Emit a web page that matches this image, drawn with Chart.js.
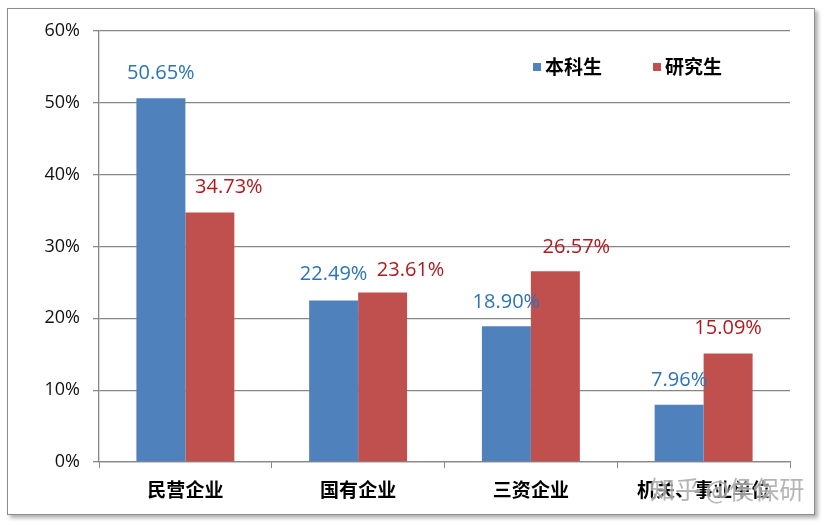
<!DOCTYPE html>
<html>
<head>
<meta charset="utf-8">
<script src="https://cdn.jsdelivr.net/npm/chart.js@4.4.1/dist/chart.umd.min.js"></script>
<style>
  body { margin: 0; background: #fff; }
  #wrap { position: relative; width: 825px; height: 525px; }
  #frame {
    position: absolute; left: 7px; top: 8px; width: 806px; height: 505px;
    border: 1px solid #8c8c8c; box-shadow: 3px 3px 4px #b0b0b0; background: #fff;
  }
  canvas { position: absolute; left: 0; top: 0; }
</style>
</head>
<body>
<div id="wrap">
  <div id="frame"></div>
  <canvas id="eduChart" width="825" height="525"></canvas>
</div>
<script>

var categories = ["民营企业", "国有企业", "三资企业", "机关、事业单位"];
var seriesNames = ["本科生", "研究生"];
var undergrad = [50.65, 22.49, 18.90, 7.96];
var graduate = [34.73, 23.61, 26.57, 15.09];
var yTicks = [0, 10, 20, 30, 40, 50, 60];

var barColors = ["#4f81bd", "#c0504d"];
var labelColors = ["#2c74b4", "#b01a1e"];
// label nudges, as in the original picture
var labelShift = [
  { dx: [0, 0, 0, 0], dy: [25, 26, 24, 25] },
  { dx: [19, 28, 21, 0], dy: [25, 22, 24, 25] }
];

var barLabels = {
  id: "barLabels",
  afterDatasetsDraw: function(chart) {
    var ctx = chart.ctx;
    ctx.save();
    ctx.font = "20px 'Open Sans'";
    ctx.textAlign = "center";
    ctx.textBaseline = "middle";
    chart.data.datasets.forEach(function(ds, di) {
      var meta = chart.getDatasetMeta(di);
      meta.data.forEach(function(bar, i) {
        ctx.fillStyle = labelColors[di];
        ctx.fillText(ds.data[i].toFixed(2) + "%",
          bar.x + labelShift[di].dx[i], bar.y - labelShift[di].dy[i]);
      });
    });
    ctx.restore();
  },
  afterDraw: function(chart) {
    var ctx = chart.ctx;
    ctx.save();
    // legend inside plot, top right
    var lx = [533, 653];
    ctx.font = "bold 19px 'Noto Sans CJK SC'";
    ctx.textBaseline = "middle";
    ctx.textAlign = "left";
    chart.data.datasets.forEach(function(ds, di) {
      ctx.fillStyle = barColors[di];
      ctx.fillRect(lx[di], 63, 8, 8);
      ctx.fillStyle = "#000";
      ctx.fillText(ds.label, lx[di] + 12, 67);
    });
    // watermark
    ctx.font = "25px 'Noto Sans CJK SC'";
    ctx.lineWidth = 2;
    ctx.strokeStyle = "rgba(255,255,255,0.6)";
    ctx.strokeText("知乎 @侯保研", 650, 489);
    ctx.fillStyle = "rgba(150,150,150,0.7)";
    ctx.fillText("知乎 @侯保研", 650, 489);
    ctx.restore();
  }
};

var chart = new Chart(document.getElementById("eduChart").getContext("2d"), {
  type: "bar",
  data: {
    labels: categories,
    datasets: [
      { label: seriesNames[0], data: undergrad, backgroundColor: barColors[0] },
      { label: seriesNames[1], data: graduate, backgroundColor: barColors[1] }
    ]
  },
  options: {
    responsive: false,
    animation: false,
    events: [],
    layout: { padding: { left: 0, right: 35, top: 31, bottom: 0 } },
    datasets: { bar: { categoryPercentage: 0.567, barPercentage: 1 } },
    plugins: { legend: { display: false }, tooltip: { enabled: false } },
    scales: {
      x: {
        grid: { offset: true, drawOnChartArea: false, drawTicks: true, tickLength: 6, color: "#868686" },
        border: { color: "#868686", width: 1.3 },
        ticks: { color: "#000", padding: 10, font: { family: "'Noto Sans CJK SC'", size: 19, weight: "bold" } },
        afterFit: function(s) { s.height = 63; }
      },
      y: {
        min: 0, max: 60,
        afterBuildTicks: function(s) { s.ticks = yTicks.map(function(v) { return { value: v }; }); },
        grid: { color: "#868686", lineWidth: 1.3, tickLength: 6 },
        border: { color: "#868686", width: 1.3 },
        ticks: {
          color: "#111", padding: 13,
          font: { family: "'Open Sans'", size: 18 },
          callback: function(v) { return v + "%"; }
        },
        afterFit: function(s) { s.width = 99; }
      }
    }
  },
  plugins: [barLabels]
});

</script>
</body>
</html>
